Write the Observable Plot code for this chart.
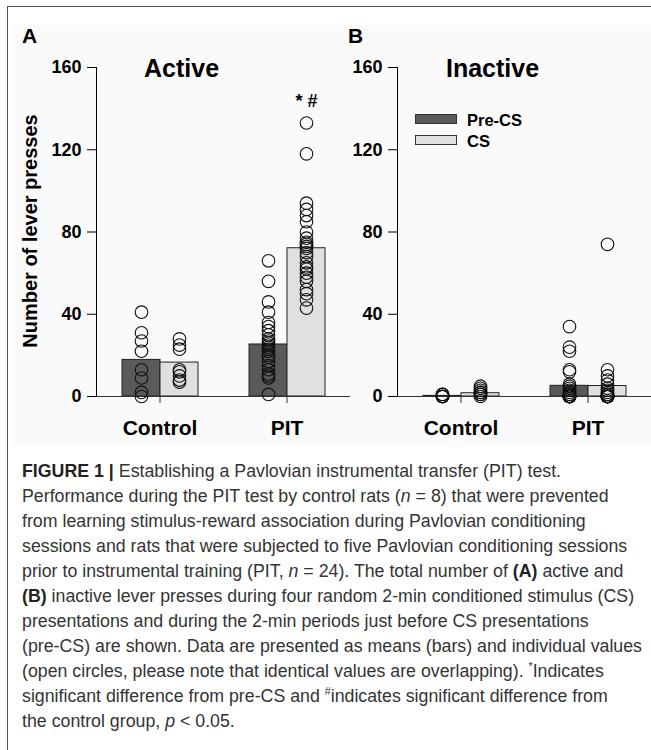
<!DOCTYPE html>
<html>
<head>
<meta charset="utf-8">
<script src="https://cdn.jsdelivr.net/npm/d3@7"></script>
<script src="https://cdn.jsdelivr.net/npm/@observablehq/plot@0.6"></script>
<style>
  body { margin: 0; background: #fff; }
  #root { position: relative; width: 651px; height: 750px; overflow: hidden; font-family: "Liberation Sans", Arial, sans-serif; }
  .frame-top { position: absolute; left: 8px; top: 6px; width: 650px; height: 0; border-top: 1.5px solid #555; }
  .frame-left { position: absolute; left: 7px; top: 6px; height: 760px; width: 0; border-left: 1.5px solid #555; }
  .bg { position: absolute; left: 12px; top: 25px; width: 639px; height: 421px; background: #fafafa; }
  .panel { position: absolute; top: 25px; }
  .lbl { position: absolute; font-weight: bold; color: #000; white-space: nowrap; line-height: 1; }
  .swatch { position: absolute; box-sizing: border-box; border: 1.4px solid #333; }
  #caption { position: absolute; left: 22px; top: 459px; color: #333; font-size: 17.5px; line-height: 25px; transform-origin: 0 0; font-family: "Liberation Sans Narrow", "Liberation Sans", Arial, sans-serif; }
  #caption div { white-space: nowrap; }
  #caption span { display: inline-block; }
  #caption sup { font-size: 0.6em; line-height: 0; }
</style>
</head>
<body>
<div id="root">
  <div class="frame-top"></div>
  <div class="frame-left"></div>
  <div class="bg"></div>
</div>
<script>
// ---------- data ----------
const groups = ["Control", "PIT"];
const conditions = ["Pre-CS", "CS"];
const barColors = ["#5a5a5a", "#e0e0e0"];

// bar heights (means): [Control Pre-CS, Control CS, PIT Pre-CS, PIT CS]
const activeMeans = [17.8, 16.5, 25.3, 72.1];
const inactiveMeans = [0.3, 1.6, 5.2, 5.1];

// individual values (open circles)
const activeControlPre = [41, 31, 27, 22, 13, 9, 2, 0];
const activeControlCS = [28, 25, 23, 13, 12, 10, 8, 7];
const activePitPre = [66, 56, 46, 41, 36, 34, 32, 30, 28, 27, 26, 25, 24, 23, 22, 20, 19, 17, 15, 13, 11, 10, 9, 1];
const activePitCS = [133, 118, 94, 91, 88, 85, 80, 77, 75, 74, 73, 72, 70, 68, 65, 63, 62, 60, 58, 56, 52, 50, 47, 43];

const inactiveControlPre = [0, 0, 0, 0, 0, 0, 1, 1];
const inactiveControlCS = [0, 1, 1, 2, 2, 3, 4, 5];
const inactivePitPre = [34, 24, 22, 13, 12, 6, 5, 4, 3, 2, 1, 1, 0, 0, 0, 0, 0, 0, 0, 0, 0, 0, 0, 0];
const inactivePitCS = [74, 13, 10, 8, 6, 4, 3, 2, 1, 1, 0, 0, 0, 0, 0, 0, 0, 0, 0, 0, 0, 0, 0, 0];

const yTicks = [0, 40, 80, 120, 160];
const significance = "* #";

// ---------- build tables ----------
function meansTable(means) {
  const out = [];
  groups.forEach((g, gi) => conditions.forEach((c, ci) => out.push({group: g, condition: c, value: means[gi * 2 + ci]})));
  return out;
}
function pointsTable(lists) {
  const out = [];
  groups.forEach((g, gi) => conditions.forEach((c, ci) => lists[gi * 2 + ci].forEach(v => out.push({group: g, condition: c, value: v}))));
  return out;
}

function panel({means, points, width, marginLeft, marginRight, annotate}) {
  const marks = [
    Plot.barY(means, {fx: "group", x: "condition", y: "value", fill: "condition", stroke: "#222", strokeWidth: 1}),
    Plot.ruleY([0], {stroke: "#333", strokeWidth: 1.2}),
    Plot.dot(points, {fx: "group", x: "condition", y: "value", r: 6.3, stroke: "#111", strokeWidth: 1.1, fill: "none"}),
    Plot.axisFx({anchor: "bottom", tickSize: 7, tickPadding: 17, fontSize: 21, fontWeight: "bold", label: null, stroke: "#333"})
  ];
  if (annotate) {
    const pit = points.filter(d => d.group === "PIT" && d.condition === "CS");
    marks.push(Plot.text([{group: "PIT", condition: "CS", value: d3.max(pit, d => d.value)}],
      {fx: "group", x: "condition", y: "value", text: () => significance, dy: -22, fontSize: 18, fontWeight: "bold", fill: "#000"}));
  }
  return Plot.plot({
    width, height: 421,
    marginTop: 42, marginBottom: 50, marginLeft, marginRight,
    style: {background: "transparent", fontFamily: "Liberation Sans, Arial, sans-serif", fontSize: "18px", fontWeight: "bold", color: "#000", overflow: "visible"},
    fx: {domain: groups, padding: 0, label: null},
    x: {domain: conditions, paddingInner: 0, paddingOuter: 0.671, axis: null},
    y: {domain: [0, 160], ticks: yTicks, tickSize: 9, tickPadding: 6, label: null, line: true},
    color: {domain: conditions, range: barColors},
    marks
  });
}

const root = document.getElementById("root");

const chartA = panel({
  means: meansTable(activeMeans),
  points: pointsTable([activeControlPre, activeControlCS, activePitPre, activePitCS]),
  width: 352, marginLeft: 96, marginRight: 2, annotate: true
});
const wrapA = document.createElement("div");
wrapA.className = "panel"; wrapA.style.left = "0px";
wrapA.appendChild(chartA); root.appendChild(wrapA);

const chartB = panel({
  means: meansTable(inactiveMeans),
  points: pointsTable([inactiveControlPre, inactiveControlCS, inactivePitPre, inactivePitCS]),
  width: 321, marginLeft: 67, marginRight: 0, annotate: false
});
const wrapB = document.createElement("div");
wrapB.className = "panel"; wrapB.style.left = "330px";
wrapB.appendChild(chartB); root.appendChild(wrapB);

// ---------- text labels ----------
function label(text, left, baseline, size) {
  const d = document.createElement("div");
  d.className = "lbl";
  d.textContent = text;
  d.style.fontSize = size + "px";
  d.style.left = left + "px";
  d.style.top = (baseline - 0.8465 * size) + "px";
  root.appendChild(d);
  return d;
}
label("A", 22, 43, 21);
label("B", 348, 43, 21);
label("Active", 144, 77, 25);
label("Inactive", 446, 77, 25);

// y axis title (rotated)
const yl = document.createElement("div");
yl.className = "lbl";
yl.textContent = "Number of lever presses";
Object.assign(yl.style, {fontSize: "20px", lineHeight: "20px", width: "320px", textAlign: "center",
  left: (30 - 160) + "px", top: (231 - 10) + "px", transform: "rotate(-90deg)", transformOrigin: "50% 50%"});
root.appendChild(yl);

// legend
const legendTops = [114, 135];
conditions.forEach((c, i) => {
  const s = document.createElement("div");
  s.className = "swatch";
  Object.assign(s.style, {left: "415px", top: legendTops[i] + "px", width: "42px", height: "10px", background: barColors[i]});
  root.appendChild(s);
  label(c, 467, legendTops[i] + 11.5, 16.5);
});

// ---------- caption ----------
const captionLines = [
  '<b style="color:#222">FIGURE 1</b> <b style="color:#222">|</b> Establishing a Pavlovian instrumental transfer (PIT) test.',
  'Performance during the PIT test by control rats (<i>n</i> = 8) that were prevented',
  'from learning stimulus-reward association during Pavlovian conditioning',
  'sessions and rats that were subjected to five Pavlovian conditioning sessions',
  'prior to instrumental training (PIT, <i>n</i> = 24). The total number of <b style="color:#222">(A)</b> active and',
  '<b style="color:#222">(B)</b> inactive lever presses during four random 2-min conditioned stimulus (CS)',
  'presentations and during the 2-min periods just before CS presentations',
  '(pre-CS) are shown. Data are presented as means (bars) and individual values',
  '(open circles, please note that identical values are overlapping). <sup>*</sup>Indicates',
  'significant difference from pre-CS and <sup>#</sup>indicates significant difference from',
  'the control group, <i>p</i> &lt; 0.05.'
];
const cap = document.createElement("div");
cap.id = "caption";
const spans = captionLines.map(t => {
  const d = document.createElement("div");
  const s = document.createElement("span");
  s.innerHTML = t;
  d.appendChild(s);
  cap.appendChild(d);
  return s;
});
root.appendChild(cap);
// compress uniformly so the longest line fits the reference text block width
const maxW = d3.max(spans, s => s.getBoundingClientRect().width);
cap.style.transform = `scaleX(${620 / maxW})`;
</script>
</body>
</html>
